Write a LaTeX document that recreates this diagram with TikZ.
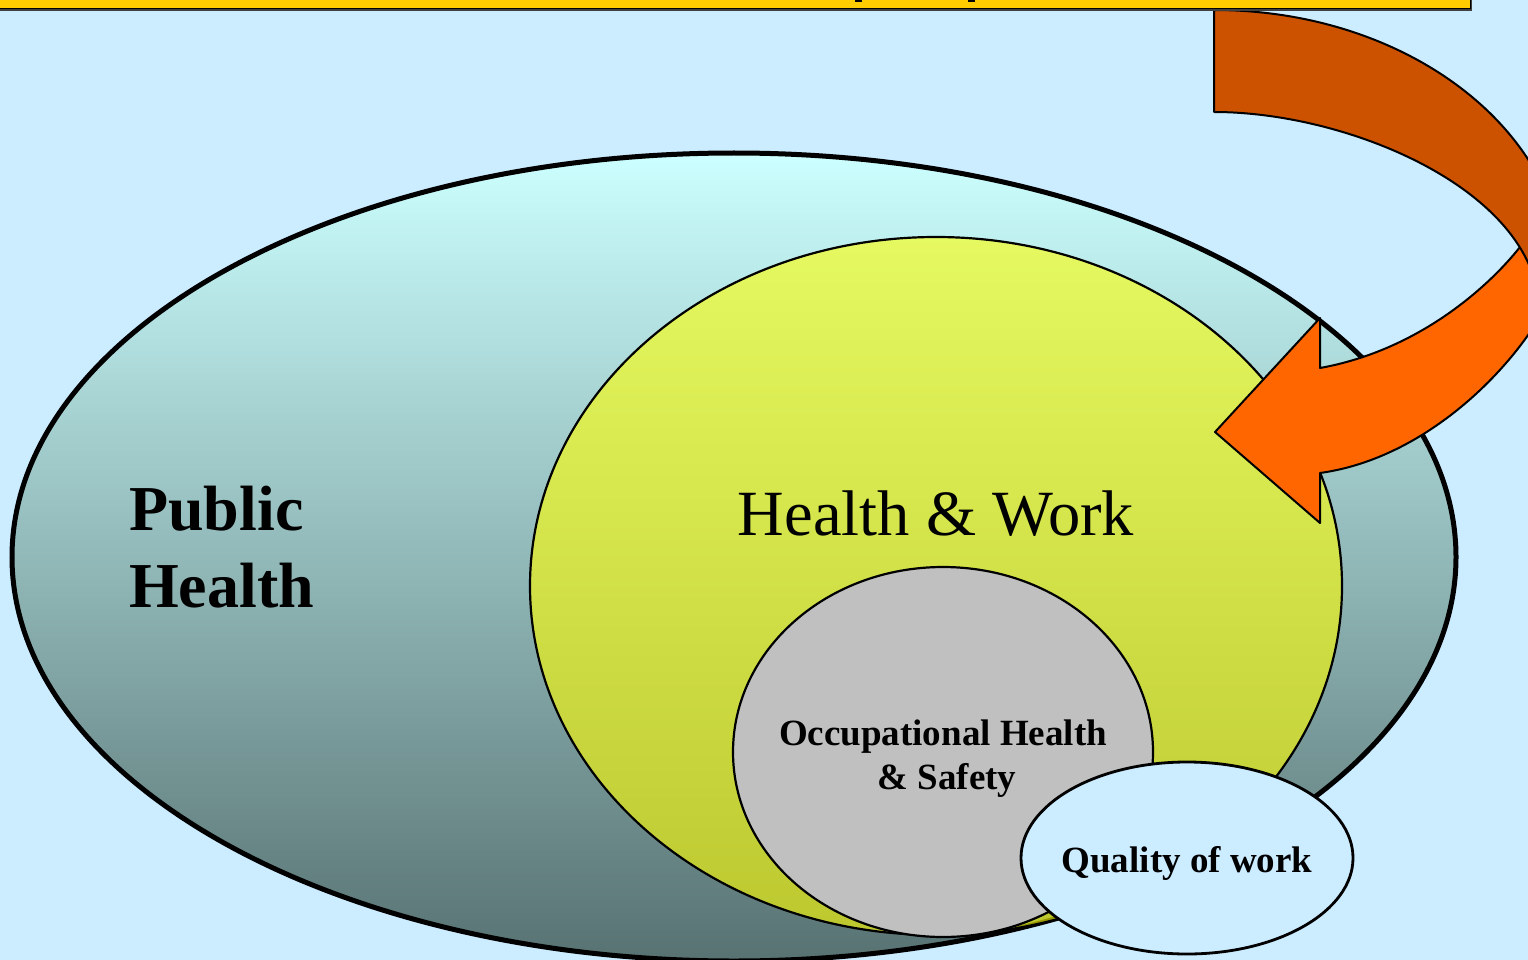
\documentclass[tikz,border=0pt]{standalone}
\usepackage{fontspec}
\setmainfont{Liberation Serif}
\definecolor{bgblue}{HTML}{CCECFF}
\definecolor{titlebox}{HTML}{FFCC00}
\definecolor{phtop}{RGB}{204,255,255}
\definecolor{phbot}{RGB}{88,114,114}
\definecolor{hwyellow}{HTML}{FFFF00}
\definecolor{ohsgray}{HTML}{C0C0C0}
\definecolor{arrowdark}{HTML}{CC5200}
\definecolor{arrowlight}{HTML}{FF6600}
\tikzset{
  outline/.style={draw=black, line join=round},
  bigtext/.style={inner sep=0pt, font=\fontsize{64}{77}\selectfont\bfseries},
  hwtext/.style={inner sep=0pt, font=\fontsize{64.5}{77}\selectfont},
  smalltext/.style={inner sep=0pt, font=\fontsize{37}{44}\selectfont\bfseries},
}
\begin{document}
\begin{tikzpicture}[x=1pt,y=-1pt]
\useasboundingbox (0,0) rectangle (1528,960);
\clip (0,0) rectangle (1528,960);
\fill[bgblue] (0,0) rectangle (1528,960);

% Public Health ellipse
\shade[top color=phtop, bottom color=phbot] (734,557) ellipse [x radius=722pt, y radius=404pt];
\draw[line width=5pt] (734,557) ellipse [x radius=722pt, y radius=404pt];

% Health & Work ellipse
\fill[hwyellow, fill opacity=0.6] (936,586) ellipse [x radius=406pt, y radius=349pt];
\draw[line width=2.2pt] (936,586) ellipse [x radius=406pt, y radius=349pt];

% Occupational Health & Safety
\filldraw[fill=ohsgray, line width=2.2pt] (943,752) ellipse [x radius=210pt, y radius=185pt];

% Quality of work
\filldraw[fill=bgblue, line width=2.8pt] (1187,858) ellipse [x radius=166pt, y radius=96pt];

% Curved arrow: front part
\filldraw[fill=arrowlight, outline, line width=2pt]
  (1520,247) .. controls (1490,285) and (1420,350) .. (1320,368)
  -- (1320,318) -- (1215,432) -- (1320,523) -- (1320,473)
  .. controls (1450,455) and (1550,325) .. (1560,270)
  -- (1550,230) -- cycle;
% Curved arrow: back part
\filldraw[fill=arrowdark, outline, line width=2pt]
  (1214,10) .. controls (1408,10) and (1565,131) .. (1565,280)
  -- (1536,285)
  .. controls (1510,180) and (1340,112) .. (1214,112)
  -- cycle;

% Title box (cut off at the top)
\fill[black!75] (-3,-18) rectangle (1472,11.5);
\filldraw[fill=titlebox, draw=black, line width=1pt] (-5,-20) rectangle (1470,9);
\fill[black] (855,0) rectangle (862,2.5);
\fill[black] (968,0) rectangle (975,2.5);

% Labels
\node[bigtext, anchor=base west] (pub) at (129,530) {Public};
\node[bigtext, anchor=base west] (hea) at (129,607) {Health};
\node[hwtext, anchor=base] (hw) at (936,535) {Health \& Work};
\node[smalltext, anchor=base] (ohs1) at (943,745) {Occupational Health};
\node[smalltext, anchor=base] (ohs2) at (947,789) {\& Safety};
\node[smalltext, anchor=base] (qow) at (1187,872) {Quality of work};
\end{tikzpicture}
\end{document}
